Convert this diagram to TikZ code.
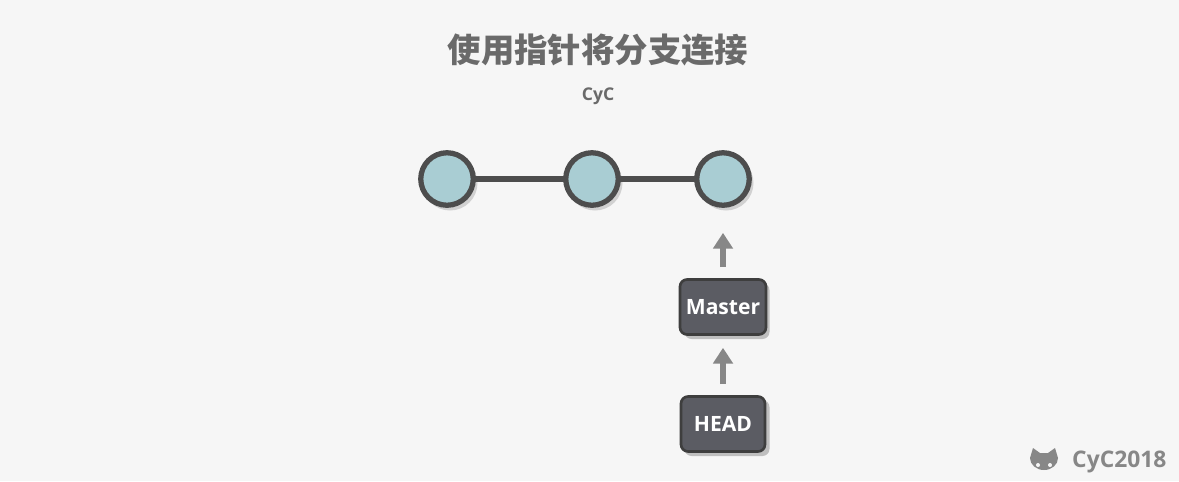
\documentclass[tikz,border=0pt]{standalone}
\usepackage{fontspec}
\setmainfont{Open Sans}
\newfontfamily\cjk{Noto Sans CJK SC}
\usetikzlibrary{arrows.meta}
\definecolor{bgcol}{HTML}{F6F6F6}
\definecolor{commitfill}{HTML}{A9CDD3}
\definecolor{edgecol}{HTML}{4D4D4D}
\definecolor{refcol}{HTML}{5B5C63}
\definecolor{arrowcol}{HTML}{878787}
\definecolor{textgray}{HTML}{6A6A6A}

\begin{document}
\begin{tikzpicture}[x=0.02cm, y=-0.02cm,
    commit/.style={circle, draw=edgecol, line width=3pt, fill=commitfill, minimum size=1.05cm, inner sep=0pt},
    ref/.style={draw=edgecol!80!black, line width=1.5pt, rounded corners=4pt, fill=refcol, text=white, font=\bfseries\fontsize{12}{14}\selectfont, minimum width=1.68cm, minimum height=1.1cm},
    shade/.style={fill=black!25, rounded corners=4pt, minimum width=1.7cm, minimum height=1.12cm, inner sep=0pt},
    pointer/.style={draw=arrowcol, line width=3pt, -{Triangle[length=9pt, width=11pt]}}
]
\fill[bgcol] (0,0) rectangle (1179,481);

\node[font=\cjk\bfseries\fontsize{19}{22}\selectfont, text=textgray] (title) at (598,50) {使用指针将分支连接};
\node[font=\bfseries\fontsize{10}{12}\selectfont, text=textgray] (sub) at (598,96) {CyC};

% commits
\node[circle, fill=black!18, minimum size=1.1cm] at (450,183) {};
\node[circle, fill=black!18, minimum size=1.1cm] at (595,183) {};
\node[circle, fill=black!18, minimum size=1.1cm] at (726,183) {};
\draw[edgecol, line width=3pt] (447,179) -- (723,179);
\node[commit] (c1) at (447,179) {};
\node[commit] (c2) at (592,179) {};
\node[commit] (c3) at (723,179) {};

% refs
\node[shade] at (727,311) {};
\node[shade] at (727,428) {};
\node[ref] (master) at (723,307) {Master};
\node[ref] (head) at (723,424) {HEAD};

\draw[pointer] ([yshift=0.22cm]master.north) -- ([yshift=-0.5cm]c3.south);
\draw[pointer] ([yshift=0.22cm]head.north) -- ([yshift=-0.24cm]master.south);

% watermark
\node[font=\bfseries\fontsize{13}{15}\selectfont, text=arrowcol, anchor=west] (wm) at (1066,462) {CyC2018};
\fill[arrowcol] (1030,458) -- (1033,448) -- (1040,453) -- (1048,453) -- (1055,448) -- (1058,458)
  arc[start angle=0, end angle=180, x radius=14, y radius=12] -- cycle;
\fill[bgcol] (1038,465) circle (2) (1050,465) circle (2);
\end{tikzpicture}
\end{document}
